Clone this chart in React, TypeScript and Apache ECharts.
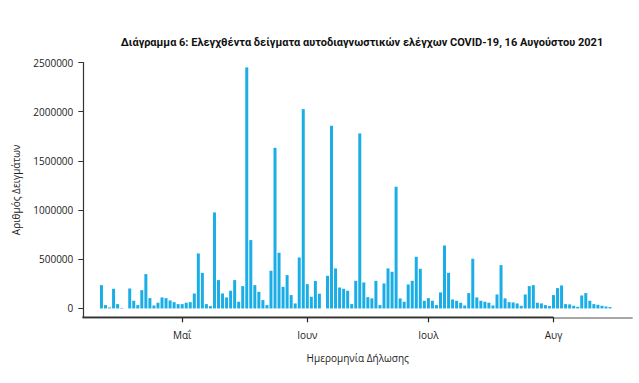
import React, { useEffect, useRef } from "react";
import * as echarts from "echarts";

const TITLE =
  "Διάγραμμα 6: Ελεγχθέντα δείγματα αυτοδιαγνωστικών ελέγχων COVID-19, 16 Αυγούστου 2021";
const Y_NAME = "Αριθμός Δειγμάτων";
const X_NAME = "Ημερομηνία Δήλωσης";

// first day with data (11 April 2021), one value per day up to 15 August 2021
const FIRST_DAY = [2021, 3, 11];
const PAD_BEFORE = 4;
const PAD_AFTER = 5;

const MONTH_LABELS: Record<string, string> = {
  "04": "Απρ",
  "05": "Μαΐ",
  "06": "Ιουν",
  "07": "Ιουλ",
  "08": "Αυγ",
};

const Y_TICKS = [0, 500000, 1000000, 1500000, 2000000, 2500000];

// samples per day (11/4 .. 15/8)
const SAMPLES_APR = [
  237000, 34000, 10000, 200000, 44000, 5000, 0, 203000, 78000, 34000, 186000,
  349000, 105000, 30000, 58000, 112000, 105000, 81000, 64000, 44000,
];
const SAMPLES_MAY = [
  44000, 58000, 64000, 152000, 559000, 362000, 44000, 24000, 976000, 288000,
  152000, 112000, 180000, 288000, 68000, 227000, 2450000, 695000, 237000,
  169000, 85000, 34000, 383000, 1633000, 566000, 220000, 339000, 136000, 51000,
  518000, 2026000,
];
const SAMPLES_JUN = [
  247000, 119000, 280000, 150000, 0, 332000, 1857000, 407000, 213000, 200000,
  180000, 44000, 281000, 1779000, 264000, 115000, 102000, 281000, 34000, 254000,
  407000, 373000, 1237000, 102000, 68000, 244000, 281000, 525000, 403000, 78000,
];
const SAMPLES_JUL = [
  105000, 78000, 34000, 163000, 640000, 362000, 91000, 78000, 58000, 30000,
  156000, 505000, 112000, 78000, 68000, 58000, 30000, 142000, 440000, 102000,
  64000, 61000, 51000, 27000, 142000, 227000, 237000, 58000, 51000, 34000,
  24000,
];
const SAMPLES_AUG = [
  136000, 207000, 234000, 44000, 41000, 27000, 17000, 132000, 156000, 78000,
  44000, 37000, 27000, 20000, 14000,
];

const SAMPLES = [
  ...SAMPLES_APR,
  ...SAMPLES_MAY,
  ...SAMPLES_JUN,
  ...SAMPLES_JUL,
  ...SAMPLES_AUG,
];

function dayString(offset: number): string {
  const d = new Date(Date.UTC(FIRST_DAY[0], FIRST_DAY[1], FIRST_DAY[2] + offset));
  const m = String(d.getUTCMonth() + 1).padStart(2, "0");
  const dd = String(d.getUTCDate()).padStart(2, "0");
  return `${d.getUTCFullYear()}-${m}-${dd}`;
}

const CATEGORIES: string[] = [];
for (let i = -PAD_BEFORE; i < SAMPLES.length + PAD_AFTER; i++) {
  CATEGORIES.push(dayString(i));
}
const SERIES_DATA = [
  ...new Array(PAD_BEFORE).fill(null),
  ...SAMPLES,
  ...new Array(PAD_AFTER).fill(null),
];

const isMonthStart = (_: number, v: string) => v.endsWith("-01");

export default function App() {
  const ref = useRef<HTMLDivElement>(null);

  useEffect(() => {
    if (!ref.current) return;
    const chart = echarts.init(ref.current, undefined, { renderer: "svg" });
    const font = "Open Sans";
    const gridLeft = 83.3;
    const gridRight = 6.8;
    const gridTop = 62.5;
    const gridBottom = 65.7;
    chart.setOption({
      animation: false,
      backgroundColor: "#ffffff",
      title: {
        text: TITLE,
        left: 357,
        textAlign: "center",
        top: 32,
        textStyle: {
          fontFamily: "Roboto",
          fontWeight: "bold",
          fontSize: 11,
          color: "#111111",
        },
      },
      grid: {
        left: gridLeft,
        right: gridRight,
        top: gridTop,
        bottom: gridBottom,
        outerBoundsMode: "none",
      },
      xAxis: {
        type: "category",
        data: CATEGORIES,
        boundaryGap: true,
        name: X_NAME,
        nameLocation: "middle",
        nameGap: 36,
        nameTextStyle: { fontFamily: font, fontSize: 10, color: "#222" },
        axisLine: { onZero: false, lineStyle: { color: "#8a8a8a", width: 1.5 } },
        axisTick: {
          show: true,
          interval: isMonthStart,
          alignWithLabel: true,
          length: 5,
          lineStyle: { color: "#222", width: 1.2 },
        },
        axisLabel: {
          interval: isMonthStart,
          formatter: (v: string) => MONTH_LABELS[v.slice(5, 7)] || "",
          fontFamily: font,
          fontSize: 10,
          color: "#222",
          margin: 13,
        },
        splitLine: { show: false },
      },
      yAxis: {
        type: "value",
        min: -90000,
        max: 2500000,
        name: Y_NAME,
        nameLocation: "middle",
        nameGap: 62,
        nameRotate: 90,
        nameTextStyle: { fontFamily: font, fontSize: 10, color: "#222" },
        axisLine: { show: true, lineStyle: { color: "#333", width: 1.2 } },
        axisTick: {
          show: true,
          length: 5,
          customValues: Y_TICKS,
          lineStyle: { color: "#333" },
        },
        axisLabel: {
          customValues: Y_TICKS,
          formatter: (v: number) => String(v),
          fontFamily: font,
          fontSize: 10,
          color: "#222",
          margin: 10,
        },
        splitLine: { show: false },
      },
      series: [
        {
          type: "bar",
          data: SERIES_DATA,
          barWidth: 3,
          itemStyle: { color: "#1BAEE6" },
        },
      ],
    });

    // darker part of the horizontal axis line, from the left end to the August tick
    const augX = chart.convertToPixel({ xAxisIndex: 0 }, "2021-08-01") as number;
    const baseY = chart.convertToPixel({ yAxisIndex: 0 }, -90000) as number;
    chart.setOption({
      graphic: [
        {
          type: "line",
          z: 100,
          shape: { x1: gridLeft - 1, y1: baseY, x2: augX, y2: baseY },
          style: { stroke: "#333", lineWidth: 1.6 },
        },
      ],
    });

    return () => chart.dispose();
  }, []);

  return (
    <div
      ref={ref}
      style={{ position: "fixed", left: 0, top: 0, width: 639, height: 383 }}
    />
  );
}
